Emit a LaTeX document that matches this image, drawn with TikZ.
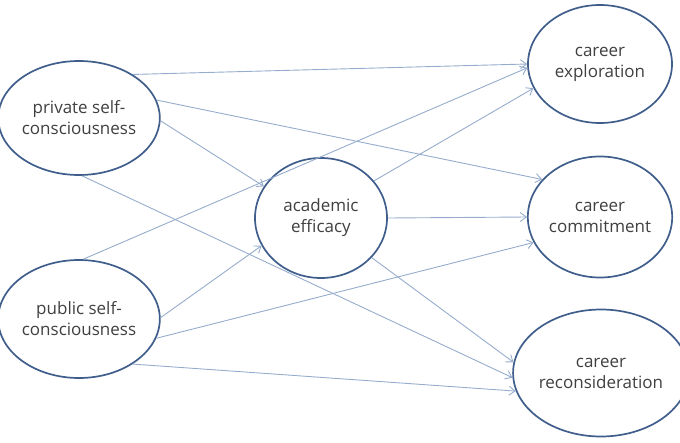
\documentclass[tikz,border=0pt]{standalone}
\usepackage{fontspec}
\setmainfont{Open Sans}
\usetikzlibrary{shapes.geometric,arrows.meta}
\definecolor{rim}{RGB}{64,94,140}
\definecolor{link}{RGB}{150,172,204}
\definecolor{ink}{RGB}{64,64,64}
\tikzset{
  var/.style={ellipse,draw=rim,line width=1.7pt,fill=white,text=ink,align=center,inner sep=0pt,
    font=\fontsize{17}{21}\selectfont},
  path/.style={draw=link,line width=0.9pt,-{Straight Barb[length=6pt,width=9pt]}}
}
\begin{document}
\begin{tikzpicture}[x=1pt,y=-1pt]
\useasboundingbox (0,0) rectangle (680,442);
\node[var,minimum width=148pt,minimum height=114pt] (P) at (79,118) {private self-\\consciousness};
\node[var,minimum width=148pt,minimum height=118pt] (U) at (79,319) {public self-\\consciousness};
\node[var,minimum width=132pt,minimum height=120pt] (A) at (321,218) {academic\\efficacy};
\node[var,minimum width=144pt,minimum height=118pt] (E) at (600,64) {career\\exploration};
\node[var,minimum width=144pt,minimum height=121pt] (C) at (600,217) {career\\commitment};
\node[var,minimum width=144pt,minimum height=127pt] (R) at (601,373) {career\\reconsideration};
\draw[path] (P.39) -- (E.180);
\draw[path] (P.13) -- (C.147);
\draw[path] (P.-2) -- (A.151);
\draw[path] (P.-87) -- (R.183);
\draw[path] (U.86) -- (E.183);
\draw[path] (U.1) -- (A.205);
\draw[path] (U.-14) -- (C.201);
\draw[path] (U.-40) -- (R.192);
\draw[path] (A.35) -- (E.200);
\draw[path] (A.0) -- (C.180);
\draw[path] (A.-38) -- (R.173);
\end{tikzpicture}
\end{document}
